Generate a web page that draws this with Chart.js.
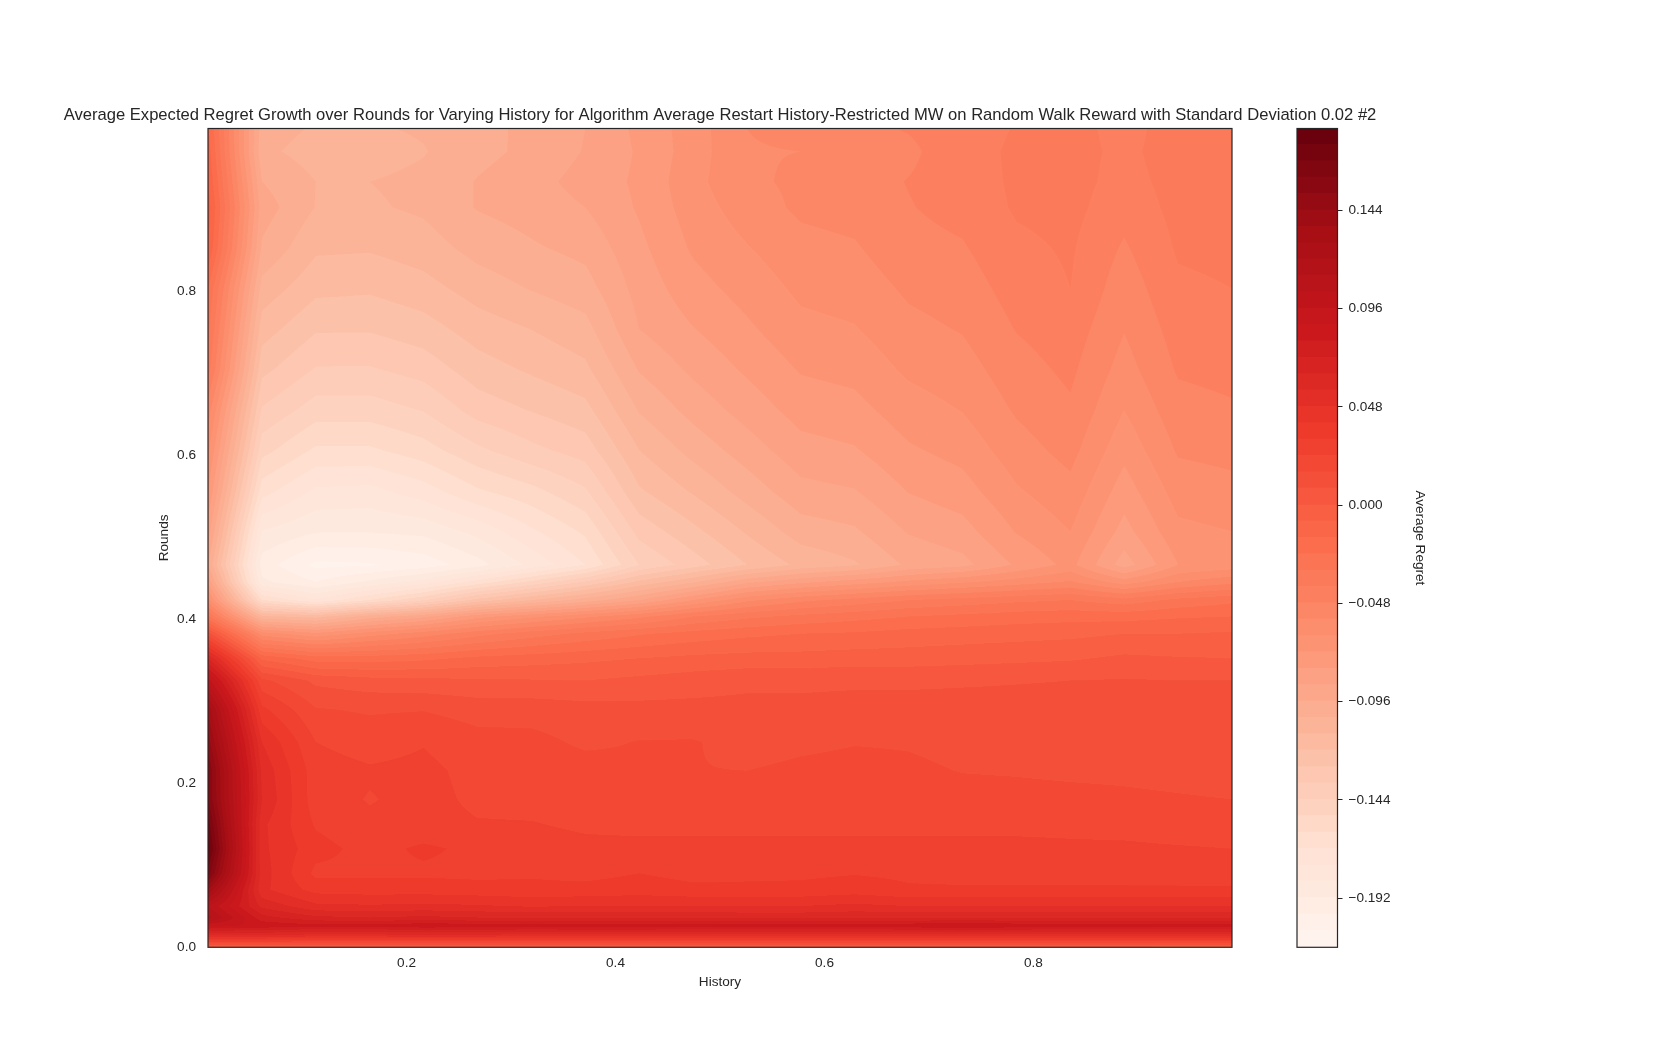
<!DOCTYPE html>
<html>
<head>
<meta charset="utf-8">
<title>Average Expected Regret Growth</title>
<script src="https://cdn.jsdelivr.net/npm/chart.js@4"></script>
<style>
    html, body { margin: 0; padding: 0; background: #ffffff; }
    #page { position: relative; width: 1654px; height: 1063px; overflow: hidden; }
    #contourChart { position: absolute; left: 0; top: 0; }
    #colorbarChart { position: absolute; left: 1290px; top: 0; }
</style>
</head>
<body>
<div id="page">
    <canvas id="contourChart" width="1440" height="1063"></canvas>
    <canvas id="colorbarChart" width="364" height="1063"></canvas>
</div>
<script>
// Chart data
const historyValues = [0.01, 0.0616, 0.1132, 0.1647, 0.2163, 0.2679, 0.3195, 0.3711, 0.4226, 0.4742,
    0.5258, 0.5774, 0.6289, 0.6805, 0.7321, 0.7837, 0.8353, 0.8868, 0.9384, 0.99];

const roundValues = [0, 0.006, 0.014, 0.026, 0.036, 0.05, 0.07, 0.09, 0.12, 0.15, 0.18, 0.215, 0.25, 0.29,
    0.325, 0.352, 0.382, 0.403, 0.423, 0.445, 0.466, 0.507, 0.556, 0.606, 0.655, 0.705, 0.754, 0.803,
    0.853, 0.902, 0.933, 0.97, 0.998];

// One row per entry of roundValues, one value per entry of historyValues
const regretRows = [
    [-.002,-.002,-.002,-.002,-.002,-.002,-.002,-.002,-.002,-.002,-.002,-.002,-.002,-.002,-.002,-.002,-.002,-.002,-.003,-.004],
    [.022,.022,.02,.02,.02,.02,.02,.02,.02,.02,.02,.02,.02,.02,.02,.02,.02,.02,.02,.02],
    [.055,.055,.052,.052,.054,.053,.052,.052,.052,.051,.05,.05,.05,.05,.051,.05,.05,.05,.05,.05],
    [.09,.086,.083,.083,.086,.085,.084,.085,.085,.084,.085,.085,.085,.086,.0885,.086,.085,.085,.084,.084],
    [.115,.075,.066,.064,.066,.064,.064,.064,.064,.063,.062,.062,.063,.063,.064,.063,.063,.063,.063,.064],
    [.104,.062,.05,.049,.05,.049,.047,.048,.048,.048,.048,.048,.05,.048,.048,.048,.048,.048,.048,.048],
    [.136,.05,.037,.036,.036,.035,.034,.0345,.036,.034,.0335,.034,.036,.033,.033,.033,.033,.033,.033,.033],
    [.165,.052,.03,.0305,.0305,.03,.031,.0295,.032,.0295,.0305,.0305,.0315,.0305,.0295,.0295,.0295,.0295,.029,.029],
    [.18,.05,.035,.029,.0335,.03,.0265,.0255,.0255,.0255,.0255,.0255,.0255,.0255,.0255,.0255,.025,.025,.0245,.024],
    [.172,.05,.031,.0255,.0265,.0245,.0243,.023,.0225,.0225,.0225,.0225,.0225,.0225,.0225,.0225,.0225,.022,.021,.0205],
    [.16,.056,.0275,.0235,.0265,.0225,.022,.0215,.0205,.019,.0185,.0185,.0185,.0185,.018,.0178,.0175,.017,.0165,.016],
    [.16,.054,.0275,.025,.026,.0215,.021,.0195,.0175,.0162,.016,.0172,.0178,.017,.0158,.0155,.015,.0148,.0142,.0135],
    [.148,.048,.024,.0205,.0235,.019,.0185,.0145,.0163,.0165,.0135,.0148,.0157,.0155,.0145,.013,.013,.0125,.012,.011],
    [.134,.034,.0165,.015,.0155,.0125,.0125,.011,.0105,.0105,.0105,.0105,.011,.011,.011,.011,.011,.0115,.0105,.0095],
    [.1,.018,.006,.003,.002,.001,.0005,0,.002,.004,.006,.006,.0065,.0065,.007,.0075,.008,.0085,.008,.008],
    [.064,-.01,-.02,-.02,-.018,-.014,-.012,-.01,-.008,-.006,-.005,-.005,-.004,-.004,-.003,-.002,-.001,.0015,.0005,0],
    [.012,-.06,-.07,-.06,-.052,-.043,-.036,-.03,-.025,-.021,-.018,-.016,-.015,-.013,-.012,-.011,-.01,-.008,-.008,-.007],
    [-.03,-.11,-.115,-.1,-.09,-.075,-.066,-.058,-.05,-.04,-.034,-.03,-.027,-.024,-.022,-.02,-.019,-.019,-.017,-.016],
    [-.06,-.16,-.175,-.16,-.145,-.125,-.112,-.1,-.088,-.072,-.058,-.05,-.045,-.04,-.037,-.034,-.032,-.037,-.03,-.026],
    [-.082,-.19,-.2,-.19,-.18,-.165,-.15,-.135,-.118,-.105,-.09,-.082,-.076,-.07,-.065,-.06,-.055,-.068,-.056,-.05],
    [-.096,-.196,-.21,-.209,-.205,-.195,-.182,-.168,-.144,-.132,-.12,-.11,-.105,-.0945,-.0905,-.079,-.0695,-.092,-.072,-.069],
    [-.084,-.1843,-.1912,-.1914,-.1897,-.1815,-.1695,-.1584,-.1332,-.1222,-.111,-.1,-.0971,-.0873,-.0832,-.0714,-.064,-.083,-.066,-.064],
    [-.072,-.1647,-.1777,-.1786,-.1719,-.1612,-.1545,-.1451,-.1211,-.111,-.1006,-.0906,-.0885,-.0796,-.0754,-.065,-.0586,-.076,-.0605,-.0585],
    [-.062,-.1489,-.1614,-.1614,-.1555,-.1457,-.1382,-.1323,-.112,-.1012,-.092,-.083,-.0807,-.0731,-.0691,-.0596,-.0532,-.0696,-.055,-.0535],
    [-.052,-.1369,-.148,-.148,-.1435,-.1326,-.1275,-.1225,-.1033,-.0931,-.0847,-.0767,-.0747,-.0676,-.0637,-.055,-.0493,-.064,-.051,-.049],
    [-.036,-.1254,-.1366,-.1367,-.1326,-.1236,-.1186,-.1137,-.0953,-.0862,-.0786,-.0712,-.0693,-.0625,-.0594,-.0512,-.0462,-.0593,-.047,-.0455],
    [-.03,-.116,-.127,-.1271,-.1234,-.1161,-.1118,-.1068,-.088,-.0803,-.0734,-.0662,-.0645,-.0583,-.0554,-.0476,-.0435,-.0556,-.0445,-.0427],
    [-.024,-.107,-.1178,-.1187,-.1151,-.1084,-.1035,-.0994,-.085,-.0752,-.0688,-.0623,-.0606,-.0546,-.052,-.0446,-.04,-.0526,-.0415,-.04],
    [-.008,-.0972,-.1105,-.111,-.1078,-.101,-.097,-.0935,-.082,-.0708,-.0645,-.0585,-.0568,-.0505,-.0487,-.0418,-.039,-.049,-.039,-.038],
    [-.004,-.092,-.1043,-.1051,-.1025,-.0955,-.0925,-.088,-.079,-.068,-.06,-.0545,-.053,-.0484,-.0455,-.039,-.0375,-.045,-.0375,-.037],
    [-.008,-.096,-.104,-.104,-.102,-.0955,-.091,-.085,-.0785,-.0665,-.0575,-.0545,-.051,-.0477,-.0445,-.0385,-.037,-.043,-.037,-.036],
    [-.012,-.102,-.1075,-.1075,-.1045,-.0985,-.094,-.0875,-.079,-.068,-.0565,-.056,-.0505,-.0495,-.0435,-.0385,-.037,-.042,-.036,-.035],
    [-.015,-.1,-.105,-.105,-.103,-.098,-.0945,-.088,-.078,-.068,-.056,-.054,-.05,-.0475,-.044,-.0395,-.037,-.043,-.036,-.035]
];

const historyTicks = [0.2, 0.4, 0.6, 0.8];
const roundTicks = [0, 0.2, 0.4, 0.6, 0.8];
const regretTicks = [-0.192, -0.144, -0.096, -0.048, 0, 0.048, 0.096, 0.144];

// Contour levels of the colour bar
const levelMin = -0.216;
const levelStep = 0.008;
const levelCount = 50;

// Reds colour map
const redsStops = [[255,245,240],[254,224,210],[252,187,161],[252,146,114],[251,106,74],[239,59,44],[203,24,29],[165,15,21],[103,0,13]];

const titleText = 'Average Expected Regret Growth over Rounds for Varying History for Algorithm Average Restart History-Restricted MW on Random Walk Reward with Standard Deviation 0.02 #2';
const textColor = '#262626';
const fontFamily = '"Liberation Sans", Arial, sans-serif';
const labelSize = 13.6;

function bandColor(index) {
    const t = (index + 0.5) / levelCount * (redsStops.length - 1);
    const i = Math.min(Math.floor(t), redsStops.length - 2);
    const f = t - i;
    return redsStops[i].map((c, k) => Math.round(c + (redsStops[i + 1][k] - c) * f));
}

const bandColors = [];
for (let i = 0; i < levelCount; i++) bandColors.push(bandColor(i));

// Index of the grid interval that holds a value
function findInterval(values, v) {
    let i = 0;
    while (i < values.length - 2 && v > values[i + 1]) i++;
    return i;
}

// Paints the filled contours from the dataset grid, through the chart's scales
const filledContourPlugin = {
    id: 'filledContour',
    beforeDatasetsDraw(chart) {
        const area = chart.chartArea;
        const xScale = chart.scales.x;
        const yScale = chart.scales.y;
        const ss = 2; // supersampling, so band edges stay smooth
        const w = Math.round(area.width) * ss;
        const h = Math.round(area.height) * ss;
        const off = document.createElement('canvas');
        off.width = w;
        off.height = h;
        const offCtx = off.getContext('2d');
        const img = offCtx.createImageData(w, h);

        const xInfo = [];
        for (let px = 0; px < w; px++) {
            const xv = xScale.getValueForPixel(area.left + (px + 0.5) / ss);
            const i = findInterval(historyValues, xv);
            xInfo.push([i, (xv - historyValues[i]) / (historyValues[i + 1] - historyValues[i])]);
        }
        for (let py = 0; py < h; py++) {
            const yv = yScale.getValueForPixel(area.top + (py + 0.5) / ss);
            const j = findInterval(roundValues, yv);
            const fy = (yv - roundValues[j]) / (roundValues[j + 1] - roundValues[j]);
            const lo = regretRows[j];
            const hi = regretRows[j + 1];
            for (let px = 0; px < w; px++) {
                const [i, fx] = xInfo[px];
                const v = (lo[i] * (1 - fx) + lo[i + 1] * fx) * (1 - fy) + (hi[i] * (1 - fx) + hi[i + 1] * fx) * fy;
                let band = Math.floor((v - levelMin) / levelStep);
                band = Math.max(0, Math.min(levelCount - 1, band));
                const c = bandColors[band];
                const o = (py * w + px) * 4;
                img.data[o] = c[0];
                img.data[o + 1] = c[1];
                img.data[o + 2] = c[2];
                img.data[o + 3] = 255;
            }
        }
        offCtx.putImageData(img, 0, 0);
        const ctx = chart.ctx;
        ctx.save();
        ctx.imageSmoothingEnabled = true;
        ctx.drawImage(off, area.left, area.top, area.width, area.height);
        ctx.restore();
    },
    afterDatasetsDraw(chart) {
        const area = chart.chartArea;
        const ctx = chart.ctx;
        ctx.save();
        ctx.strokeStyle = textColor;
        ctx.lineWidth = 1.2;
        ctx.strokeRect(area.left, area.top, area.width, area.height);
        ctx.restore();
    }
};

// Grid nodes as chart points, used by the contour plugin above
const gridPoints = [];
roundValues.forEach((y, j) => {
    historyValues.forEach((x, i) => {
        gridPoints.push({ x: x, y: y, v: regretRows[j][i] });
    });
});

// Canvas is 1440 wide and the plot is centred in it, so the title lands over the plot.
// Side space comes from the axis boxes, the title would be squeezed by layout padding.
new Chart(document.getElementById('contourChart'), {
    type: 'scatter',
    data: {
        datasets: [{
            label: 'Average Regret',
            data: gridPoints,
            pointRadius: 0,
            pointHoverRadius: 0
        }]
    },
    options: {
        responsive: false,
        animation: false,
        devicePixelRatio: 1,
        layout: { padding: { left: 0, right: 0, top: 0, bottom: 68.2 } },
        plugins: {
            legend: { display: false },
            tooltip: { enabled: false },
            title: {
                display: true,
                text: titleText,
                color: textColor,
                font: { family: fontFamily, size: 16.6, weight: 'normal' },
                padding: { top: 105.1, bottom: 3.48 }
            }
        },
        scales: {
            x: {
                type: 'linear',
                min: 0.01,
                max: 0.99,
                grid: { display: false, drawTicks: false },
                border: { display: false },
                afterBuildTicks: scale => { scale.ticks = historyTicks.map(v => ({ value: v })); },
                afterFit: scale => { scale.height = 47.5; },
                ticks: {
                    color: textColor,
                    font: { family: fontFamily, size: labelSize },
                    padding: 8,
                    maxRotation: 0,
                    callback: v => v.toFixed(1)
                },
                title: {
                    display: true,
                    text: 'History',
                    color: textColor,
                    font: { family: fontFamily, size: labelSize },
                    padding: { top: 4, bottom: 4 }
                }
            },
            y: {
                type: 'linear',
                min: 0,
                max: 0.998,
                grid: { display: false, drawTicks: false },
                border: { display: false },
                afterBuildTicks: scale => { scale.ticks = roundTicks.map(v => ({ value: v })); },
                afterFit: scale => { scale.width = 208; },
                ticks: {
                    color: textColor,
                    font: { family: fontFamily, size: labelSize },
                    padding: 12,
                    callback: v => v.toFixed(1)
                },
                title: {
                    display: true,
                    text: 'Rounds',
                    color: textColor,
                    font: { family: fontFamily, size: labelSize },
                    padding: { top: 156, bottom: 0 }
                }
            },
            // Empty axis that only keeps the space on the right of the plot
            spacer: {
                type: 'linear',
                position: 'right',
                grid: { display: false, drawTicks: false },
                border: { display: false },
                ticks: { display: false },
                afterFit: scale => { scale.width = 208; }
            }
        }
    },
    plugins: [filledContourPlugin]
});

// Colour bar: one floating bar per contour band
const colorbarDatasets = bandColors.map((c, i) => ({
    data: [[levelMin + i * levelStep, levelMin + (i + 1) * levelStep]],
    backgroundColor: `rgb(${c[0]}, ${c[1]}, ${c[2]})`,
    borderWidth: 0,
    inflateAmount: 1,
    barPercentage: 1,
    categoryPercentage: 1,
    grouped: false
}));

const colorbarFramePlugin = {
    id: 'colorbarFrame',
    afterDatasetsDraw(chart) {
        const area = chart.chartArea;
        const ctx = chart.ctx;
        ctx.save();
        ctx.strokeStyle = textColor;
        ctx.lineWidth = 1.2;
        ctx.strokeRect(area.left, area.top, area.width, area.height);
        ctx.restore();
    }
};

new Chart(document.getElementById('colorbarChart'), {
    type: 'bar',
    data: { labels: [''], datasets: colorbarDatasets },
    options: {
        responsive: false,
        animation: false,
        devicePixelRatio: 1,
        layout: { padding: { left: 7, right: 226.5, top: 128.5, bottom: 115.7 } },
        plugins: {
            legend: { display: false },
            tooltip: { enabled: false }
        },
        scales: {
            x: {
                display: false,
                afterFit: scale => { scale.height = 0; }
            },
            y: {
                position: 'right',
                min: levelMin,
                max: levelMin + levelCount * levelStep,
                grid: { drawOnChartArea: false, tickLength: 5, color: textColor, tickWidth: 1 },
                border: { display: false },
                afterBuildTicks: scale => { scale.ticks = regretTicks.map(v => ({ value: v })); },
                afterFit: scale => { scale.width = 90; },
                ticks: {
                    color: textColor,
                    font: { family: fontFamily, size: labelSize },
                    padding: 6,
                    callback: v => (v < 0 ? '\u2212' : '') + Math.abs(v).toFixed(3)
                },
                title: {
                    display: true,
                    text: 'Average Regret',
                    color: textColor,
                    font: { family: fontFamily, size: labelSize },
                    padding: { top: 0, bottom: 0 }
                }
            }
        }
    },
    plugins: [colorbarFramePlugin]
});
</script>
</body>
</html>
